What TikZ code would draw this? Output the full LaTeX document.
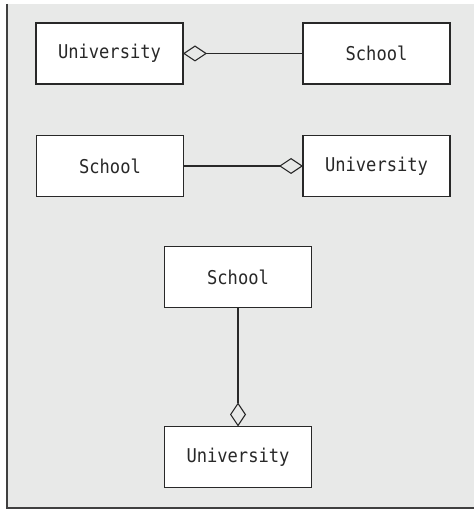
\documentclass[tikz,border=0pt]{standalone}
\usepackage{fontspec}
\setmonofont{DejaVu Sans Mono}[FakeStretch=0.9]
\usetikzlibrary{arrows.meta,positioning}
\definecolor{umlPanelGray}{RGB}{232, 233, 232}
\definecolor{umlFrameGray}{RGB}{64, 64, 64}
\definecolor{umlLineGray}{RGB}{40, 40, 40}

\begin{document}
\begin{tikzpicture}[
  x=1pt, y=-1pt,
  classbox/.style={
    draw=umlLineGray,
    line width=1.3pt,
    fill=white,
    minimum height=61pt,
    minimum width=147pt,
    inner sep=0pt,
    outer sep=0pt,
    font=\ttfamily\fontsize{19}{23}\selectfont,
    text=umlLineGray
  },
  aggr/.style={-{Diamond[open,length=24pt,width=16pt,line width=1.1pt]},line width=1.1pt,umlLineGray}
]
  \useasboundingbox (0,0) rectangle (474,510);
  \fill[umlPanelGray] (7,4) rectangle (474,507);
  \draw[umlFrameGray,line width=2pt] (6.5,4) -- (6.5,507.5) -- (474,507.5);

  % first row: diamond on the left
  \node[classbox] (uniA) at (109.5,53.5) {University};
  \node[classbox, right=120pt of uniA] (schoolA) {School};
  \draw[aggr] (schoolA) -- (uniA);

  % second row: diamond on the right
  \node[classbox] (schoolB) at (110,166) {School};
  \node[classbox] (uniB) at (376.5,166) {University};
  \draw[aggr] (schoolB) -- (uniB);

  % third row: vertical
  \node[classbox] (schoolC) at (238,277) {School};
  \node[classbox, below=119pt of schoolC] (uniC) {University};
  \draw[aggr] (schoolC) -- (uniC);
\end{tikzpicture}
\end{document}
